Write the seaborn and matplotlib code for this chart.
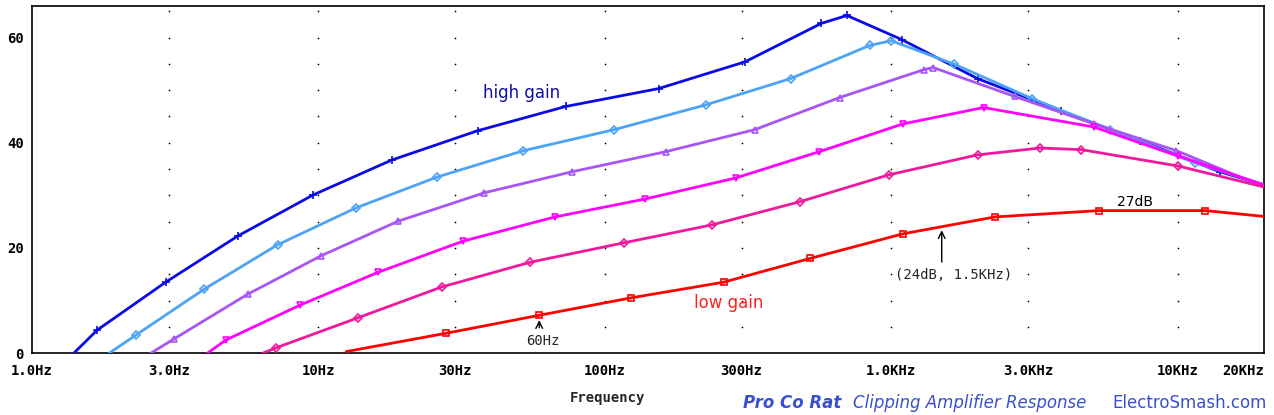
import numpy as np
import pandas as pd
import seaborn as sns
import matplotlib.pyplot as plt

sns.set_theme(style="white")
plt.rcParams['font.family'] = ['DejaVu Sans']

# frequency (Hz) / gain (dB), one list per gain setting
f_blue = [1.4, 1.69, 2.93, 5.24, 9.6, 18, 36, 73, 154, 309, 570, 700, 1090, 2000, 3900, 7400, 14000, 20000]
g_blue = [0, 4.4, 13.5, 22.3, 30.1, 36.7, 42.3, 46.9, 50.3, 55.4, 62.7, 64.2, 59.6, 52.2, 46.1, 40.4, 34.5, 32]
f_sky = [1.86, 2.3, 4.0, 7.2, 13.5, 26, 52, 108, 225, 445, 840, 1000, 1650, 3100, 5800, 11500, 20000]
g_sky = [0, 3.4, 12.2, 20.6, 27.6, 33.5, 38.5, 42.5, 47.2, 52.2, 58.5, 59.4, 55, 48.4, 42.5, 36.2, 32]
f_purple = [2.6, 3.13, 5.66, 10.2, 19, 38, 77, 163, 334, 660, 1300, 1400, 2700, 5100, 9900, 20000]
g_purple = [0, 2.7, 11.2, 18.5, 25.1, 30.5, 34.5, 38.3, 42.5, 48.6, 53.9, 54.3, 48.8, 43.6, 38.5, 31.6]
f_mag = [4.1, 4.75, 8.6, 16.2, 32, 67, 138, 286, 560, 1100, 2100, 5100, 10000, 20000]
g_mag = [0, 2.5, 9.1, 15.4, 21.3, 25.9, 29.3, 33.3, 38.3, 43.6, 46.7, 43.0, 37.5, 32]
f_pink = [6.4, 7.1, 13.7, 27, 55, 117, 237, 480, 980, 2000, 3300, 4600, 10000, 20000]
g_pink = [0, 1, 6.7, 12.6, 17.3, 21, 24.4, 28.8, 33.9, 37.7, 39, 38.7, 35.6, 31.6]
f_red = [12.5, 28, 59, 123, 260, 520, 1100, 2300, 5300, 12500, 20000]
g_red = [0.3, 3.8, 7.2, 10.5, 13.5, 18, 22.7, 25.9, 27.1, 27.1, 26]

x_ticks = [1, 3, 10, 30, 100, 300, 1000, 3000, 10000, 20000]
x_labels = ["1.0Hz", "3.0Hz", "10Hz", "30Hz", "100Hz", "300Hz", "1.0KHz", "3.0KHz", "10KHz", "20KHz"]
y_ticks = [0, 20, 40, 60]

curves = [
    (f_blue, g_blue, "#0a0ae6", "+"),
    (f_sky, g_sky, "#4da3f5", "D"),
    (f_purple, g_purple, "#a855f7", "^"),
    (f_mag, g_mag, "#ff00ff", "v"),
    (f_pink, g_pink, "#f0189c", "D"),
    (f_red, g_red, "#ff0000", "s"),
]

fig = plt.figure(figsize=(12.74, 4.15), dpi=100)
ax = fig.add_axes([0.0251, 0.149, 0.967, 0.8365])
ax.set_xscale("log")

# dotted grid made of single dots, like the PSpice plot
gx, gy = np.meshgrid(x_ticks[1:-1], np.arange(5, 66, 5))
ax.scatter(gx.ravel(), gy.ravel(), s=1.5, color="black", zorder=1, linewidths=0)

for f, g, col, mk in curves:
    df = pd.DataFrame({"f": f, "g": g})
    sns.lineplot(data=df, x="f", y="g", ax=ax, color=col, linewidth=2,
                 marker=mk, markersize=4 if mk != "+" else 6,
                 markerfacecolor="none" if mk != "+" else col,
                 markeredgecolor=col, markeredgewidth=1.2,
                 markevery=list(range(1, len(f) - 1)), zorder=3)

ax.set_xlim(1, 20000)
ax.set_ylim(0, 66)
ax.set_xticks(x_ticks)
ax.set_xticklabels(x_labels)
ax.minorticks_off()
ax.set_yticks(y_ticks)
ax.set_yticklabels([str(v) for v in y_ticks])
ax.tick_params(axis="both", direction="out", length=4, width=1.2, colors="black",
               labelsize=10)
for lab in ax.get_xticklabels() + ax.get_yticklabels():
    lab.set_family("DejaVu Sans Mono")
    lab.set_weight("bold")
ax.get_xticklabels()[-1].set_horizontalalignment("right")
ax.tick_params(axis="y", pad=2)
for s in ax.spines.values():
    s.set_color("black")
    s.set_linewidth(1.2)
ax.set_xlabel("")
ax.set_ylabel("")

ax.text(51, 49.5, "high gain", color="#1010a0", fontsize=12, ha="center", va="center")
ax.text(270, 9.6, "low gain", color="#ff2020", fontsize=12, ha="center", va="center")
ax.text(7100, 28.7, "27dB", color="black", fontsize=10, ha="center", va="center")
ax.annotate("", xy=(1500, 23.9), xytext=(1500, 16.8),
            arrowprops=dict(arrowstyle="->", color="black", lw=1))
ax.text(1650, 14.9, "(24dB, 1.5KHz)", ha="center", va="center",
        family="DejaVu Sans Mono", fontsize=10)
ax.annotate("", xy=(59, 6.8), xytext=(59, 4.3),
            arrowprops=dict(arrowstyle="->", color="black", lw=1))
ax.text(61, 2.3, "60Hz", ha="center", va="center", family="DejaVu Sans Mono", fontsize=10)

fig.text(607 / 1274, 1 - 398 / 415, "Frequency", ha="center", va="center",
         family="DejaVu Sans Mono", weight="bold", fontsize=10)
fig.text(792 / 1274, 1 - 403 / 415, "Pro Co Rat", ha="center", va="center",
         color="#3a4fd0", style="italic", weight="bold", fontsize=12)
fig.text(970 / 1274, 1 - 403 / 415, "Clipping Amplifier Response", ha="center", va="center",
         color="#3a4fd0", style="italic", fontsize=12)
fig.text(1190 / 1274, 1 - 403 / 415, "ElectroSmash.com", ha="center", va="center",
         color="#3a4fd0", fontsize=12)

fig.savefig("out.png", dpi=100, facecolor="white")
